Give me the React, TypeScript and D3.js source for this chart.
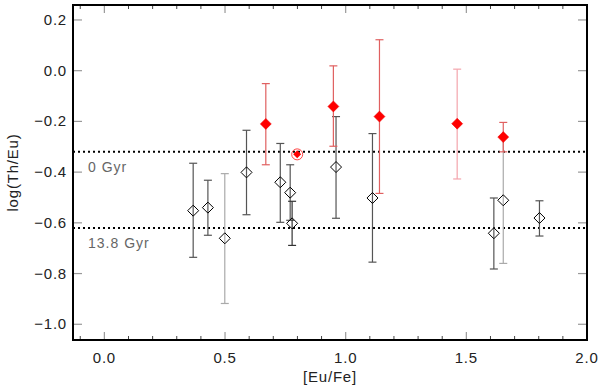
import React from 'react';
import * as d3 from 'd3';

// open diamonds (black), error bars
const openX = [0.368, 0.429, 0.499, 0.589, 0.729, 0.770, 0.778, 0.960, 1.111, 1.614, 1.653, 1.803];
const openY = [-0.552, -0.540, -0.661, -0.401, -0.440, -0.481, -0.602, -0.380, -0.502, -0.641, -0.511, -0.581];
const openHi = [-0.365, -0.432, -0.406, -0.235, -0.287, -0.371, -0.515, -0.181, -0.248, -0.502, -0.262, -0.513];
const openLo = [-0.736, -0.649, -0.918, -0.568, -0.598, -0.590, -0.689, -0.582, -0.755, -0.782, -0.760, -0.652];
const openErrCol = ['#555', '#555', '#aaa', '#555', '#555', '#555', '#333', '#555', '#555', '#555', '#aaa', '#555'];

// filled red diamonds
const redX = [0.669, 0.949, 1.140, 1.462, 1.653];
const redY = [-0.210, -0.141, -0.181, -0.209, -0.262];
const redHi = [-0.051, 0.019, 0.122, 0.006, -0.204];
const redLo = [-0.371, -0.298, -0.484, -0.427, -0.320];
const redErrCol = ['#e06060', '#e06060', '#e06060', '#f4a4ac', '#e06060'];

// circled point
const ringX = [0.799];
const ringY = [-0.330];

// age lines
const ageY = [-0.32, -0.62];
const ageLabels = ['0 Gyr', '13.8 Gyr'];

const xTicks = [0.0, 0.5, 1.0, 1.5, 2.0];
const yTicks = [0.2, 0.0, -0.2, -0.4, -0.6, -0.8, -1.0];

const W = 600, H = 389;
const L = 73, R = 587, T = 5, B = 340;

export default function App() {
  const x = d3.scaleLinear().domain([-0.13, 2.0]).range([L, R]);
  const y = d3.scaleLinear().domain([-1.062, 0.259]).range([B, T]);
  const minorX = d3.range(-1, 21).map(i => i / 10).filter(v => !xTicks.some(t => Math.abs(t - v) < 1e-6));
  const font = "'Liberation Sans', Arial, sans-serif";

  const diamond = (cx: number, cy: number, r: number) =>
    `M${cx},${cy - r}L${cx + r},${cy}L${cx},${cy + r}L${cx - r},${cy}Z`;

  const errBar = (cx: number, hi: number, lo: number, col: string, key: string) => (
    <g key={key} stroke={col} strokeWidth={1.2}>
      <line x1={cx} x2={cx} y1={y(hi)} y2={y(lo)} />
      <line x1={cx - 4} x2={cx + 4} y1={y(hi)} y2={y(hi)} />
      <line x1={cx - 4} x2={cx + 4} y1={y(lo)} y2={y(lo)} />
    </g>
  );

  return (
    <svg width={W} height={H} style={{ position: 'absolute', left: 0, top: 0 }} fontFamily={font}>
      <rect width={W} height={H} fill="#fff" />

      {/* ticks */}
      {xTicks.map(t => (
        <g key={'xt' + t} stroke="#999" strokeWidth={1.2}>
          <line x1={x(t)} x2={x(t)} y1={B} y2={B - 8} />
          <line x1={x(t)} x2={x(t)} y1={T} y2={T + 8} />
        </g>
      ))}
      {minorX.map(t => (
        <g key={'xm' + t} stroke="#444" strokeWidth={1}>
          <line x1={x(t)} x2={x(t)} y1={B} y2={B - 4} />
          <line x1={x(t)} x2={x(t)} y1={T} y2={T + 4} />
        </g>
      ))}
      {yTicks.map(t => (
        <g key={'yt' + t} stroke="#999" strokeWidth={1.2}>
          <line x1={L} x2={L + 9} y1={y(t)} y2={y(t)} />
          <line x1={R} x2={R - 9} y1={y(t)} y2={y(t)} />
        </g>
      ))}

      {/* age reference lines */}
      {ageY.map((v, i) => (
        <g key={'age' + i}>
          <line x1={L} x2={R} y1={y(v)} y2={y(v)} stroke="#000" strokeWidth={2}
            strokeDasharray="2,3" />
          <text x={88} y={y(v) + 20} fontSize={14} fill="#666" letterSpacing={1}>{ageLabels[i]}</text>
        </g>
      ))}

      {/* open diamonds */}
      {openX.map((v, i) => errBar(x(v), openHi[i], openLo[i], openErrCol[i], 'oe' + i))}
      {openX.map((v, i) => (
        <path key={'od' + i} d={diamond(x(v), y(openY[i]), 5.5)} fill="none" stroke="#000" strokeWidth={1} />
      ))}

      {/* red diamonds */}
      {redX.map((v, i) => errBar(x(v), redHi[i], redLo[i], redErrCol[i], 're' + i))}
      {redX.map((v, i) => (
        <path key={'rd' + i} d={diamond(x(v), y(redY[i]), 5.5)} fill="#f00" stroke="#e00" strokeWidth={0.5} />
      ))}

      {ringX.map((v, i) => (
        <g key={'ring' + i}>
          <circle cx={x(v)} cy={y(ringY[i])} r={5.5} fill="none" stroke="#f44" strokeWidth={1} />
          <path d={diamond(x(v), y(ringY[i]), 4)} fill="#f00" />
        </g>
      ))}

      {/* frame */}
      <rect x={L} y={T} width={R - L} height={B - T} fill="none" stroke="#000" strokeWidth={2} />

      {/* tick labels */}
      {xTicks.map(t => (
        <text key={'xl' + t} x={x(t)} y={363} fontSize={15} textAnchor="middle" fill="#222" letterSpacing={0.8}>
          {d3.format('.1f')(t)}
        </text>
      ))}
      {yTicks.map(t => (
        <text key={'yl' + t} x={67} y={y(t) + 5} fontSize={15} textAnchor="end" fill="#222" letterSpacing={0.8}>
          {d3.format('.1f')(t).replace('-', '\u2212')}
        </text>
      ))}

      <text x={(L + R) / 2} y={382} fontSize={15} textAnchor="middle" fill="#222" letterSpacing={0.8}>[Eu/Fe]</text>
      <text transform={`translate(18,${(T + B) / 2}) rotate(-90)`} fontSize={15} textAnchor="middle" fill="#222"
        letterSpacing={0.8}>
        log(Th/Eu)
      </text>
    </svg>
  );
}
